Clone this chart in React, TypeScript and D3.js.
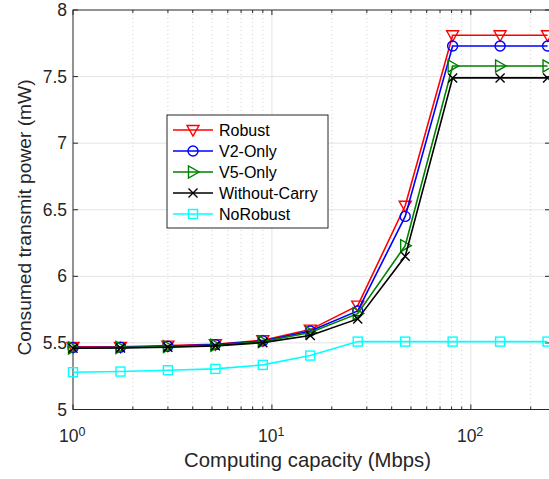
import React from "react";
import * as d3 from "d3";

// Computing capacity (Mbps): powers of sqrt(3)
const capacities = [1, 1.732, 3, 5.196, 9, 15.59, 27, 46.77, 81, 140.3, 243];

const robust = [5.47, 5.47, 5.48, 5.49, 5.52, 5.6, 5.78, 6.53, 7.81, 7.81, 7.81];
const v2Only = [5.465, 5.468, 5.475, 5.487, 5.515, 5.59, 5.74, 6.45, 7.73, 7.73, 7.73];
const v5Only = [5.462, 5.465, 5.472, 5.483, 5.51, 5.578, 5.72, 6.23, 7.58, 7.58, 7.58];
const withoutCarry = [5.46, 5.462, 5.468, 5.478, 5.502, 5.555, 5.68, 6.15, 7.49, 7.49, 7.49];
const noRobust = [5.28, 5.285, 5.295, 5.305, 5.335, 5.405, 5.51, 5.51, 5.51, 5.51, 5.51];

const seriesNames = ["Robust", "V2-Only", "V5-Only", "Without-Carry", "NoRobust"];
const seriesColors = ["#ff0000", "#0000ff", "#008000", "#000000", "#00ffff"];
const seriesMarkers = ["triangleDown", "circle", "triangleRight", "cross", "square"];
const seriesValues = [robust, v2Only, v5Only, withoutCarry, noRobust];

const yTicks = [5, 5.5, 6, 6.5, 7, 7.5, 8];
const xDecades = [1, 10, 100];
const xDecadeExp = ["0", "1", "2"];

const W = 549;
const H = 479;
const M = { left: 73, top: 10, right: 550, bottom: 409.5 };
const FONT = "'Liberation Sans', Arial, Helvetica, sans-serif";
const AXIS = "#262626";

function Marker({ type, x, y, color }: { type: string; x: number; y: number; color: string }) {
  const s = 6;
  const common = { fill: "none", stroke: color, strokeWidth: 1.4 };
  if (type === "triangleDown") {
    return <path d={`M${x - s},${y - s * 0.75}L${x + s},${y - s * 0.75}L${x},${y + s}Z`} {...common} />;
  }
  if (type === "triangleRight") {
    return <path d={`M${x - s * 0.75},${y - s}L${x - s * 0.75},${y + s}L${x + s},${y}Z`} {...common} />;
  }
  if (type === "circle") {
    return <circle cx={x} cy={y} r={5} {...common} />;
  }
  if (type === "square") {
    return <rect x={x - 4.5} y={y - 4.5} width={9} height={9} {...common} />;
  }
  return (
    <path
      d={`M${x - 4.5},${y - 4.5}L${x + 4.5},${y + 4.5}M${x - 4.5},${y + 4.5}L${x + 4.5},${y - 4.5}`}
      {...common}
    />
  );
}

export default function App() {
  const x = d3.scaleLog().domain([1, 250]).range([M.left, M.right]);
  const y = d3.scaleLinear().domain([5, 8]).range([M.bottom, M.top]);

  const minorX: number[] = [];
  for (const base of [1, 10, 100]) {
    for (let m = 2; m <= 9; m++) {
      const v = base * m;
      if (v < 250) minorX.push(v);
    }
  }

  const line = d3
    .line<number>()
    .x((_, i) => x(capacities[i]))
    .y((d) => y(d));

  const legX = 167;
  const legY = 115;
  const legRow = 21;

  return (
    <svg
      width={W}
      height={H}
      style={{ position: "absolute", left: 0, top: 0, background: "#fff" }}
      fontFamily={FONT}
    >
      <rect width={W} height={H} fill="#fff" />
      {/* major grid */}
      {yTicks.slice(1, -1).map((t) => (
        <line key={"gy" + t} x1={M.left} x2={M.right} y1={y(t)} y2={y(t)} stroke="#e3e3e3" strokeWidth={1} />
      ))}
      {xDecades.slice(1).map((t) => (
        <line key={"gx" + t} x1={x(t)} x2={x(t)} y1={M.top} y2={M.bottom} stroke="#e3e3e3" strokeWidth={1} />
      ))}
      {/* minor grid */}
      {minorX.map((t) => (
        <line
          key={"mx" + t}
          x1={x(t)}
          x2={x(t)}
          y1={M.top}
          y2={M.bottom}
          stroke="#cfcfcf"
          strokeWidth={1}
          strokeDasharray="1,3"
        />
      ))}

      {/* axis box */}
      <rect
        x={M.left}
        y={M.top}
        width={M.right - M.left}
        height={M.bottom - M.top}
        fill="none"
        stroke={AXIS}
        strokeWidth={1}
      />
      {/* ticks */}
      {yTicks.map((t) => (
        <g key={"ty" + t}>
          <line x1={M.left} x2={M.left + 5} y1={y(t)} y2={y(t)} stroke={AXIS} />
          <line x1={M.right} x2={M.right - 5} y1={y(t)} y2={y(t)} stroke={AXIS} />
          <text x={M.left - 6} y={y(t) + 6} textAnchor="end" fontSize={17.5} fill={AXIS}>
            {t}
          </text>
        </g>
      ))}
      {xDecades.map((t, i) => (
        <g key={"tx" + t}>
          <line x1={x(t)} x2={x(t)} y1={M.bottom} y2={M.bottom - 5} stroke={AXIS} />
          <line x1={x(t)} x2={x(t)} y1={M.top} y2={M.top + 5} stroke={AXIS} />
          <text x={x(t) - 4.2} y={441.5} textAnchor="middle" fontSize={17.5} fill={AXIS}>
            10
          </text>
          <text x={x(t) + 5.5} y={436} textAnchor="start" fontSize={12.5} fill={AXIS}>
            {xDecadeExp[i]}
          </text>
        </g>
      ))}
      {minorX.map((t) => (
        <g key={"tm" + t}>
          <line x1={x(t)} x2={x(t)} y1={M.bottom} y2={M.bottom - 3} stroke={AXIS} />
          <line x1={x(t)} x2={x(t)} y1={M.top} y2={M.top + 3} stroke={AXIS} />
        </g>
      ))}

      {/* axis titles */}
      <text x={307.5} y={466.5} textAnchor="middle" fontSize={20.3} fill={AXIS}>
        Computing capacity (Mbps)
      </text>
      <text
        transform="translate(30.5,217.5) rotate(-90)"
        textAnchor="middle"
        fontSize={19.2}
        fill={AXIS}
      >
        Consumed transmit power (mW)
      </text>

      {/* series */}
      {seriesValues.map((vals, si) => (
        <g key={"s" + si}>
          <path d={line(vals) || ""} fill="none" stroke={seriesColors[si]} strokeWidth={1.6} />
          {vals.map((v, i) => (
            <Marker key={i} type={seriesMarkers[si]} x={x(capacities[i])} y={y(v)} color={seriesColors[si]} />
          ))}
        </g>
      ))}

      {/* legend */}
      <rect x={legX} y={legY} width={161} height={113} fill="#fff" stroke={AXIS} strokeWidth={1} />
      {seriesNames.map((name, i) => {
        const cy = legY + 15 + i * legRow;
        return (
          <g key={"l" + i}>
            <line x1={legX + 6} x2={legX + 46} y1={cy} y2={cy} stroke={seriesColors[i]} strokeWidth={1.6} />
            <Marker type={seriesMarkers[i]} x={legX + 26} y={cy} color={seriesColors[i]} />
            <text x={legX + 52} y={cy + 5.5} fontSize={16} fill="#000">
              {name}
            </text>
          </g>
        );
      })}
    </svg>
  );
}
